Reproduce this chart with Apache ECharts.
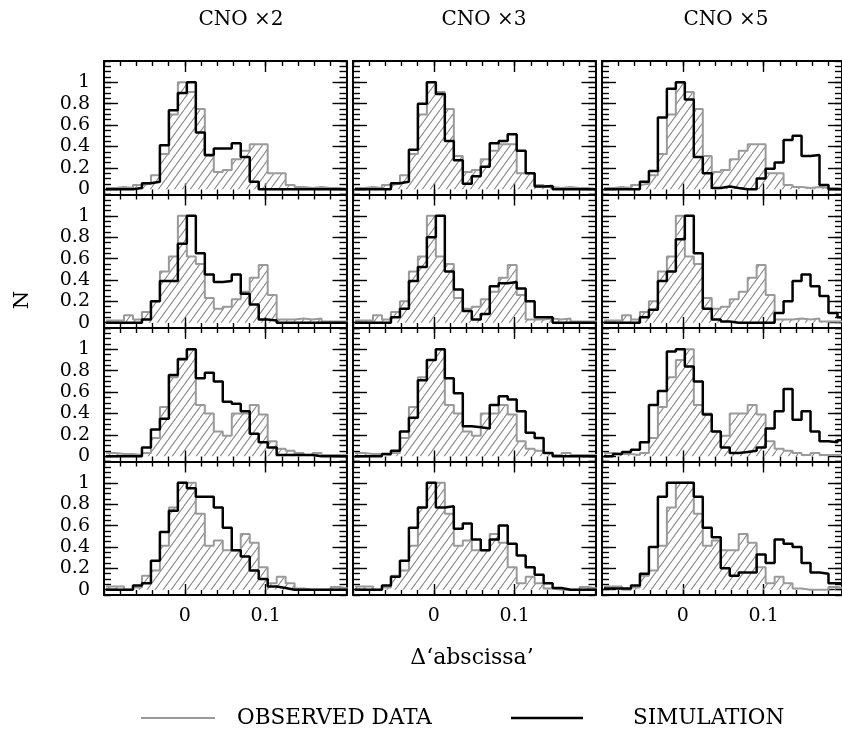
<!DOCTYPE html>
<html>
<head>
<meta charset="utf-8">
<script src="https://cdn.jsdelivr.net/npm/echarts@6/dist/echarts.min.js"></script>
<style>
html,body{margin:0;padding:0;background:#fff;}
#chart{width:842px;height:729px;}
</style>
</head>
<body>
<div id="chart"></div>
<script>
// ---------------- DATA ----------------
const colTitles = ['CNO ×2', 'CNO ×3', 'CNO ×5'];
const xTitle = 'Δ‘abscissa’';
const yTitle = 'N';
const seriesNames = ['OBSERVED DATA', 'SIMULATION'];
const xTickLabels = [0, 0.1];
const yTickLabels = [0, 0.2, 0.4, 0.6, 0.8, 1];
// histogram bins (data units)
const binStart = -0.0975;
const binWidth = 0.1 / 9;

// observed data: one set per row (same in every column of that row)
const obsRow1 = [0.01,0.02,0.01,0.04,0.05,0.13,0.33,0.70,1.00,0.91,0.75,0.31,0.16,0.18,0.28,0.36,0.42,0.42,0.15,0.15,0.04,0.02,0.01,0.02,0.01,0.01,0.00];
const obsRow2 = [0.02,0.02,0.07,0.03,0.10,0.20,0.48,0.62,1.00,0.62,0.55,0.23,0.13,0.15,0.22,0.29,0.42,0.54,0.26,0.03,0.03,0.04,0.03,0.04,0.01,0.01,0.01];
const obsRow3 = [0.03,0.02,0.02,0.01,0.03,0.17,0.46,0.74,0.90,1.00,0.48,0.40,0.23,0.19,0.40,0.40,0.48,0.39,0.14,0.07,0.05,0.03,0.01,0.03,0.01,0.01,0.01];
const obsRow4 = [0.03,0.03,0.00,0.02,0.13,0.18,0.41,0.77,1.00,1.00,0.71,0.41,0.46,0.37,0.37,0.52,0.44,0.21,0.06,0.12,0.06,0.01,0.00,0.00,0.00,0.025,0.01];

// simulations: row r, column (CNO x2, x3, x5)
const simR1C1 = [0,0,0,0.01,0.055,0.07,0.41,0.74,0.90,1.00,0.53,0.32,0.38,0.38,0.43,0.30,0.07,0,0,0,0,0,0,0,0,0,0];
const simR1C2 = [0,0,0,0,0.055,0.07,0.37,0.80,1.00,0.89,0.45,0.27,0.05,0.12,0.21,0.43,0.45,0.515,0.36,0.15,0.025,0.03,0,0,0,0,0];
const simR1C3 = [0,0,0,0,0.07,0.17,0.67,0.94,1.00,0.84,0.30,0.15,0.01,0.025,0.01,0,0,0.10,0.19,0.25,0.46,0.50,0.31,0.32,0.04,0,0];

const simR2C1 = [0,0,0,0,0.03,0.20,0.39,0.39,0.74,1.00,0.65,0.45,0.38,0.39,0.45,0.27,0.17,0.03,0.02,0,0,0,0,0,0,0,0];
const simR2C2 = [0,0,0,0,0.05,0.13,0.39,0.52,0.80,1.00,0.48,0.31,0.11,0.03,0.08,0.34,0.37,0.38,0.32,0.20,0.05,0.05,0,0,0,0,0];
const simR2C3 = [0,0,0,0,0.05,0.12,0.39,0.48,0.78,1.00,0.65,0.13,0.03,0.01,0,0,0,0,0,0.09,0.20,0.39,0.45,0.34,0.25,0.09,0.05];

const simR3C1 = [0,0,0,0,0.08,0.25,0.35,0.76,0.91,1.00,0.73,0.78,0.70,0.51,0.49,0.42,0.21,0.13,0.08,0.01,0.01,0.01,0.01,0,0,0,0];
const simR3C2 = [0,0,0,0.02,0.05,0.23,0.36,0.71,0.90,1.00,0.73,0.59,0.28,0.27,0.26,0.48,0.56,0.53,0.42,0.22,0.17,0.03,0,0,0,0,0];
const simR3C3 = [0,0.02,0.04,0.06,0.13,0.48,0.61,0.98,1.00,0.84,0.70,0.39,0.23,0.08,0.03,0.04,0.05,0.08,0.26,0.42,0.63,0.34,0.42,0.23,0.14,0.13,0.15];

const simR4C1 = [0,0,0,0.04,0.06,0.27,0.54,0.74,1.00,0.95,0.87,0.87,0.77,0.58,0.37,0.31,0.18,0.10,0.03,0.015,0,0,0,0,0,0,0];
const simR4C2 = [0,0,0,0.04,0.12,0.27,0.58,0.77,1.00,0.77,0.78,0.57,0.62,0.47,0.37,0.47,0.60,0.43,0.32,0.21,0.14,0.06,0.015,0,0,0,0];
const simR4C3 = [0.01,0.01,0.01,0.04,0.15,0.40,0.87,1.00,1.00,1.00,0.87,0.58,0.49,0.20,0.13,0.16,0.16,0.33,0.25,0.47,0.43,0.40,0.25,0.16,0.15,0.06,0.06];

const observedByRow = [obsRow1, obsRow2, obsRow3, obsRow4];
const simulated = [
  [simR1C1, simR1C2, simR1C3],
  [simR2C1, simR2C2, simR2C3],
  [simR3C1, simR3C2, simR3C3],
  [simR4C1, simR4C2, simR4C3]
];

// ---------------- LAYOUT / STYLE ----------------
const COL_LEFT = [104, 353, 602];
const COL_WIDTH = [242.5, 242.5, 240];
const X_MIN = -0.1;
const X_MAX = [0.2, 0.2, 0.197];
const ROW_TOP = [61, 194.5, 328, 461.5];
const ROW_H = 133.5;
const Y_MIN = -0.05, Y_MAX = 1.2;
const FONT = 'DejaVu Serif';
const GREY = '#9a9a9a';

function hatchPattern() {
  const c = document.createElement('canvas');
  c.width = 8; c.height = 11;
  const ctx = c.getContext('2d');
  ctx.strokeStyle = '#8a8a8a';
  ctx.lineWidth = 1.1;
  ctx.beginPath();
  ctx.moveTo(-8, 11); ctx.lineTo(0, 0);
  ctx.moveTo(0, 11); ctx.lineTo(8, 0);
  ctx.moveTo(8, 11); ctx.lineTo(16, 0);
  ctx.stroke();
  return c;
}
const hatch = hatchPattern();

function stepData(values) {
  const pts = values.map((v, k) => [binStart + k * binWidth, v]);
  pts.push([binStart + values.length * binWidth, values[values.length - 1]]);
  return pts;
}

const grids = [], xAxes = [], yAxes = [], series = [];
const tickStyle = {color: '#000', width: 1.4};
const borderLine = {show: true, onZero: false, lineStyle: {color: '#000', width: 2}};
const noLine = {show: false, onZero: false};
const labelStyle = {color: '#000', fontFamily: FONT, fontSize: 19};

for (let r = 0; r < 4; r++) {
  for (let c = 0; c < 3; c++) {
    const g = grids.length;
    grids.push({left: COL_LEFT[c], top: ROW_TOP[r], width: COL_WIDTH[c], height: ROW_H, containLabel: false});
    const xb = {gridIndex: g, type: 'value', min: X_MIN, max: X_MAX[c], splitLine: {show: false}};
    ['bottom', 'top'].forEach(pos => {
      xAxes.push(Object.assign({}, xb, {
        position: pos, interval: 0.02, axisLine: borderLine,
        axisTick: {show: true, inside: true, length: 5, lineStyle: tickStyle},
        axisLabel: {show: false}
      }));
      xAxes.push(Object.assign({}, xb, {
        position: pos, axisLine: noLine,
        axisTick: {show: true, inside: true, length: 11, customValues: xTickLabels, lineStyle: tickStyle},
        axisLabel: Object.assign({show: pos === 'bottom' && r === 3, customValues: xTickLabels, margin: 12}, labelStyle)
      }));
    });
    const yb = {gridIndex: g, type: 'value', min: Y_MIN, max: Y_MAX, splitLine: {show: false}};
    ['left', 'right'].forEach(pos => {
      yAxes.push(Object.assign({}, yb, {
        position: pos, interval: 0.05, axisLine: borderLine,
        axisTick: {show: true, inside: true, length: 7, lineStyle: tickStyle},
        axisLabel: {show: false}
      }));
      yAxes.push(Object.assign({}, yb, {
        position: pos, axisLine: noLine,
        axisTick: {show: true, inside: true, length: 14, customValues: yTickLabels, lineStyle: tickStyle},
        axisLabel: Object.assign({show: pos === 'left' && c === 0, customValues: yTickLabels, margin: 14}, labelStyle)
      }));
    });
    const xi = g * 4, yi = g * 4;
    series.push({
      name: seriesNames[0], type: 'line', step: 'end', xAxisIndex: xi, yAxisIndex: yi,
      data: stepData(observedByRow[r]), showSymbol: false, symbol: 'none', color: GREY,
      lineStyle: {color: GREY, width: 2}, areaStyle: {color: {image: hatch, repeat: 'repeat'}, opacity: 1},
      z: 2, silent: true
    });
    series.push({
      name: seriesNames[1], type: 'line', step: 'end', xAxisIndex: xi, yAxisIndex: yi,
      data: stepData(simulated[r][c]), showSymbol: false, symbol: 'none', color: '#000',
      lineStyle: {color: '#000', width: 2.5}, z: 3, silent: true
    });
  }
}

const TITLE_X = [241, 484, 726];
const graphic = colTitles.map((t, i) => ({
  type: 'text', x: TITLE_X[i], y: 20,
  style: {text: t, align: 'center', verticalAlign: 'middle', fontFamily: FONT, fontSize: 20, fill: '#000'}
}));
graphic.push({type: 'text', x: 472, y: 658,
  style: {text: xTitle, align: 'center', verticalAlign: 'middle', fontFamily: FONT, fontSize: 22, fill: '#000'}});
graphic.push({type: 'text', x: 23, y: 300, rotation: Math.PI / 2,
  style: {text: yTitle, align: 'center', verticalAlign: 'middle', fontFamily: FONT, fontSize: 21, fill: '#000'}});

const legendText = {fontFamily: FONT, fontSize: 21.5, color: '#000', lineHeight: 24};
const option = {
  animation: false,
  backgroundColor: '#fff',
  grid: grids, xAxis: xAxes, yAxis: yAxes, series: series,
  graphic: graphic,
  legend: [
    {data: [{name: seriesNames[0], icon: 'rect', itemStyle: {color: GREY}}], left: 141, top: 706,
     itemWidth: 74, itemHeight: 2, padding: 0, selectedMode: false,
     textStyle: Object.assign({padding: [0, 0, 0, 17]}, legendText)},
    {data: [{name: seriesNames[1], icon: 'rect', itemStyle: {color: '#000'}}], left: 511, top: 706,
     itemWidth: 72, itemHeight: 2.5, padding: 0, selectedMode: false,
     textStyle: Object.assign({padding: [0, 0, 0, 45]}, legendText)}
  ]
};
const chart = echarts.init(document.getElementById('chart'), null, {renderer: 'canvas'});
chart.setOption(option);
</script>
</body>
</html>
